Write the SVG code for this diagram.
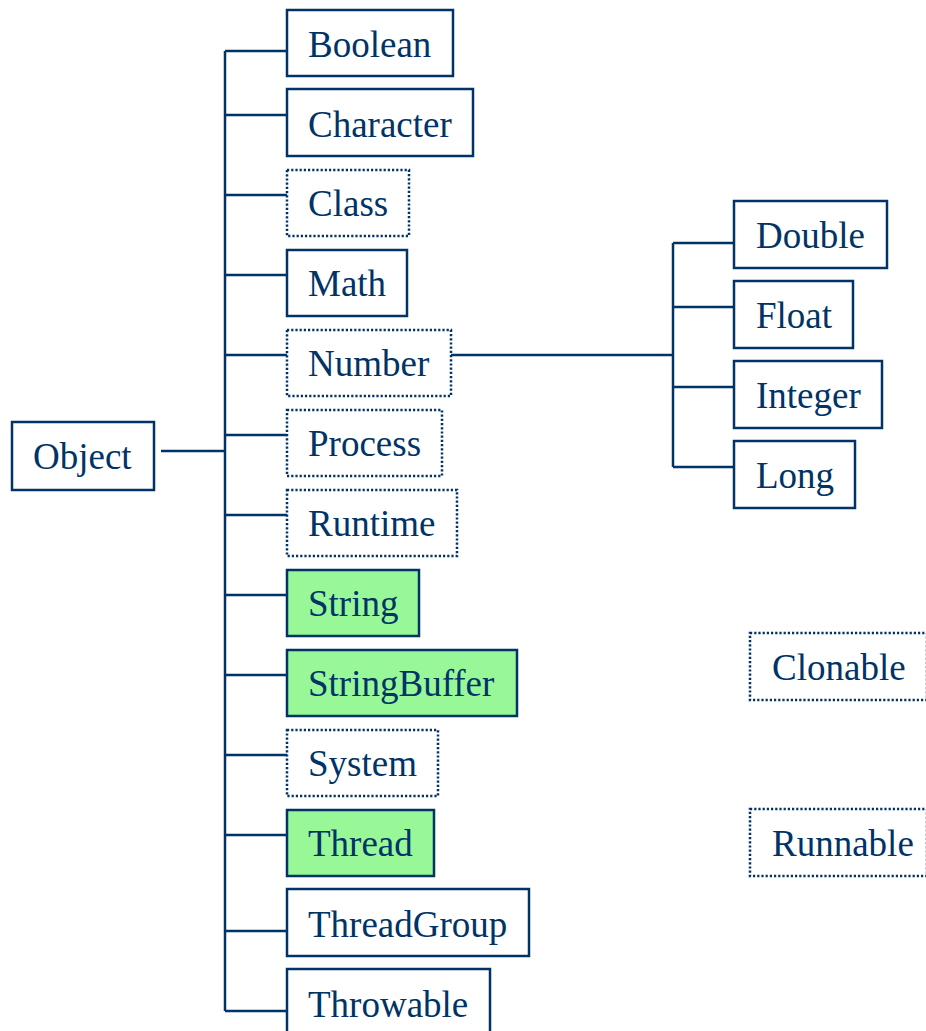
<svg xmlns="http://www.w3.org/2000/svg" width="926" height="1031" viewBox="0 0 926 1031">
<style>
.b{fill:#fff;stroke:#003366;stroke-width:2.5}
.d{fill:#fff;stroke:#003366;stroke-width:2.5;stroke-dasharray:2.2 2}
.g{fill:#98F898;stroke:#003366;stroke-width:2.5}
.t{font-family:"Liberation Serif","Times New Roman",serif;font-size:37px;fill:#003366}
.c{fill:none;stroke:#003366;stroke-width:2.5}
</style>
<rect width="926" height="1031" fill="#fff"/>
<g id="connectors">
<path class="c" d="M161 451H225M225 51V1011M225 51H287M225 115H287M225 195H287M225 275H287M225 355H287M225 435H287M225 515H287M225 595H287M225 675H287M225 755H287M225 835H287M225 931H287M225 1011H287"/>
<path class="c" d="M451 355H673M673 243V467M673 243H734M673 307H734M673 387H734M673 467H734"/>
</g>
<g id="Object"><rect class="b" x="12" y="422" width="142" height="68"/><text class="t" x="33" y="469">Object</text></g>
<g id="Boolean"><rect class="b" x="287" y="10" width="166" height="66"/><text class="t" x="308" y="57">Boolean</text></g>
<g id="Character"><rect class="b" x="287" y="89" width="186" height="67"/><text class="t" x="308" y="137">Character</text></g>
<g id="Class"><rect class="d" x="287" y="170" width="122" height="66"/><text class="t" x="308" y="216">Class</text></g>
<g id="Math"><rect class="b" x="287" y="250" width="120" height="66"/><text class="t" x="308" y="296">Math</text></g>
<g id="Number"><rect class="d" x="287" y="330" width="164" height="66"/><text class="t" x="308" y="376">Number</text></g>
<g id="Process"><rect class="d" x="287" y="410" width="155" height="66"/><text class="t" x="308" y="456">Process</text></g>
<g id="Runtime"><rect class="d" x="287" y="490" width="170" height="66"/><text class="t" x="308" y="536">Runtime</text></g>
<g id="String"><rect class="g" x="287" y="570" width="132" height="66"/><text class="t" x="308" y="616">String</text></g>
<g id="StringBuffer"><rect class="g" x="287" y="650" width="230" height="66"/><text class="t" x="308" y="696">StringBuffer</text></g>
<g id="System"><rect class="d" x="287" y="730" width="151" height="66"/><text class="t" x="308" y="776">System</text></g>
<g id="Thread"><rect class="g" x="287" y="810" width="147" height="66"/><text class="t" x="308" y="856">Thread</text></g>
<g id="ThreadGroup"><rect class="b" x="287" y="889" width="242" height="67"/><text class="t" x="308" y="937">ThreadGroup</text></g>
<g id="Throwable"><rect class="b" x="287" y="969" width="203" height="70"/><text class="t" x="308" y="1017">Throwable</text></g>
<g id="Double"><rect class="b" x="734" y="201" width="153" height="67"/><text class="t" x="756" y="248">Double</text></g>
<g id="Float"><rect class="b" x="734" y="281" width="119" height="67"/><text class="t" x="756" y="328">Float</text></g>
<g id="Integer"><rect class="b" x="734" y="361" width="148" height="67"/><text class="t" x="756" y="408">Integer</text></g>
<g id="Long"><rect class="b" x="734" y="441" width="121" height="67"/><text class="t" x="756" y="488">Long</text></g>
<g id="Clonable"><rect class="d" x="750" y="633" width="177" height="67"/><text class="t" x="772" y="680">Clonable</text></g>
<g id="Runnable"><rect class="d" x="750" y="809" width="177" height="67"/><text class="t" x="772" y="856">Runnable</text></g>
</svg>
